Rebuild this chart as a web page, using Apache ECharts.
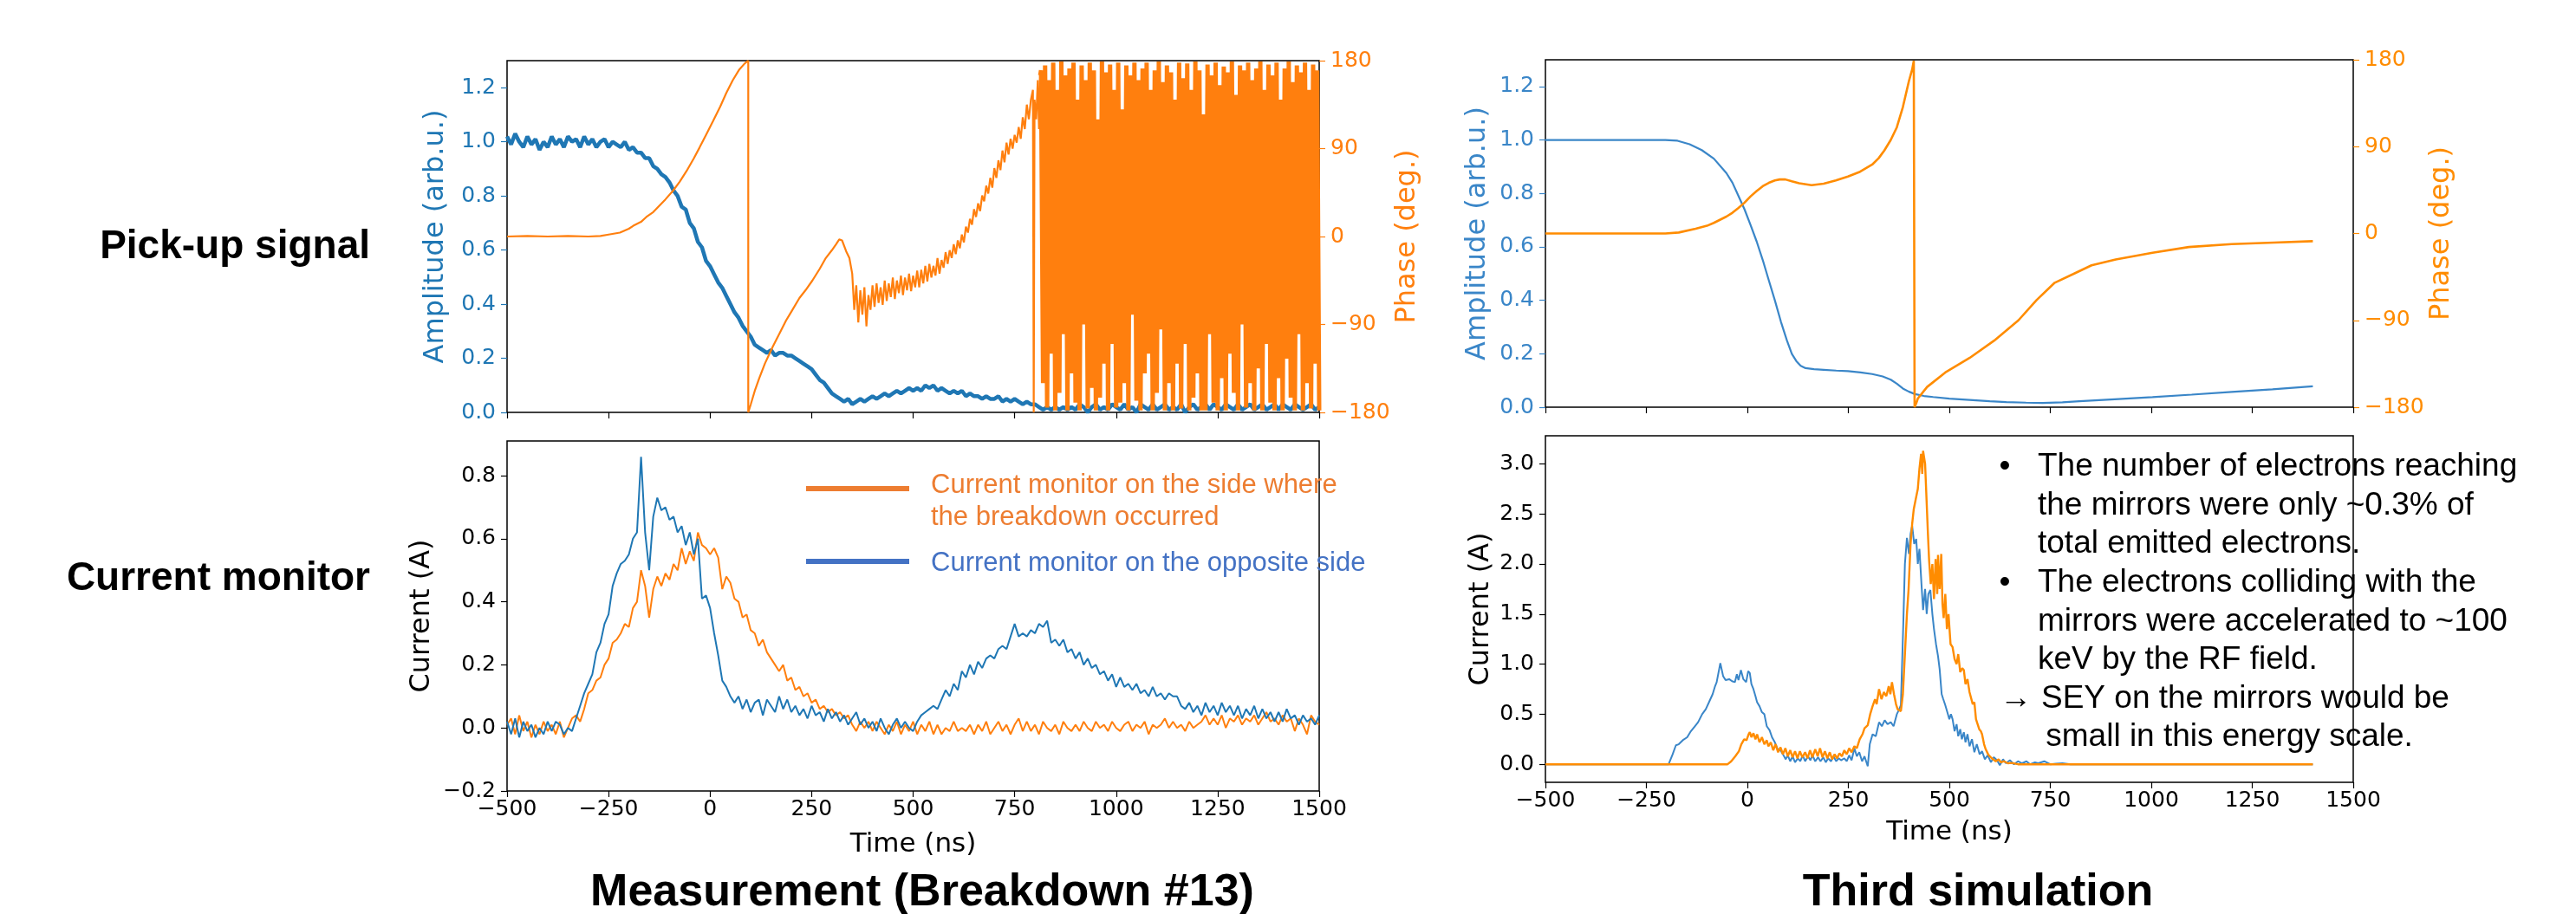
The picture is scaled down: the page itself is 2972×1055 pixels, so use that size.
<!DOCTYPE html>
<html><head><meta charset="utf-8">
<script src="https://cdn.jsdelivr.net/npm/echarts@6/dist/echarts.min.js"></script>
<style>html,body{margin:0;padding:0;background:#fff}#c{width:2972px;height:1055px}</style>
</head><body><div id="c"></div>
<script>
// ---------- tick labels ----------
const xTicks = [-500, -250, 0, 250, 500, 750, 1000, 1250, 1500];
const ampTicks = [0, 0.2, 0.4, 0.6, 0.8, 1.0, 1.2];
const phaseTicks = [-180, -90, 0, 90, 180];
const blTicks = [-0.2, 0, 0.2, 0.4, 0.6, 0.8];
const brTicks = [0, 0.5, 1.0, 1.5, 2.0, 2.5, 3.0];

// ---------- Measurement: pick-up amplitude (start -500 ns, every 10 ns) ----------
const tlAmpStart = -500, tlAmpStep = 10;
const tlAmp = [
 1.02,0.99,1.03,1.00,0.98,1.02,0.99,1.01,0.97,1.00,
 0.98,1.02,0.99,1.01,0.98,1.02,1.00,1.01,0.98,1.02,
 0.99,1.01,0.98,1.00,1.01,0.98,1.00,0.99,0.98,1.00,
 0.97,0.98,0.96,0.96,0.94,0.94,0.91,0.90,0.88,0.87,
 0.85,0.82,0.80,0.76,0.75,0.70,0.68,0.63,0.61,0.56,
 0.54,0.51,0.48,0.46,0.43,0.40,0.37,0.35,0.32,0.30,
 0.28,0.25,0.24,0.23,0.22,0.23,0.21,0.22,0.22,0.21,
 0.21,0.20,0.19,0.18,0.17,0.16,0.14,0.12,0.11,0.09,
 0.07,0.06,0.05,0.04,0.05,0.03,0.04,0.05,0.04,0.05,
 0.06,0.05,0.06,0.07,0.06,0.07,0.08,0.07,0.08,0.09,
 0.08,0.09,0.08,0.10,0.09,0.10,0.08,0.09,0.08,0.07,
 0.08,0.07,0.08,0.06,0.07,0.06,0.06,0.05,0.06,0.05,
 0.05,0.06,0.04,0.05,0.04,0.05,0.04,0.03,0.04,0.03,
 0.03,0.02,0.01,0.02,0.01,0.02,0.01,0.02,0.01,0.02,
 0.01,0.03,0.02,0.00,0.02,0.03,0.01,0.02,0.01,0.03,
 0.02,0.01,0.03,0.01,0.02,0.00,0.03,0.02,0.01,0.03,
 0.01,0.02,0.03,0.01,0.02,0.01,0.03,0.00,0.02,0.03,
 0.01,0.02,0.03,0.01,0.03,0.02,0.01,0.03,0.02,0.01,
 0.03,0.01,0.02,0.03,0.01,0.02,0.03,0.01,0.02,0.03,
 0.01,0.03,0.02,0.01,0.03,0.02,0.01,0.02,0.03,0.01,
 0.02
];

// ---------- Measurement: pick-up phase, [time ns, deg] ----------
const tlPhase = [
 [-500,0],[-450,0.5],[-400,0],[-350,0.5],[-300,0],[-270,0.5],[-250,2],[-222,4],[-200,8],[-189,11],
 [-170,15],[-157,20],[-140,25],[-124,32],[-110,38],[-91,47],[-75,56],[-58,67],[-40,80],[-26,91],
 [-10,104],[7,118],[25,133],[40,147],[56,160],[72,171],[85,177],[94,180],[94,-180],[100,-172],
 [110,-158],[121,-145],[135,-130],[154,-113],[170,-100],[187,-86],[200,-77],[220,-63],[235,-55],[252,-45],
 [270,-33],[285,-22],[300,-14],[310,-8],[318,-3],[325,-4],[335,-15],[343,-22],[350,-38],[355,-75],
 [360,-50],[365,-88],[370,-55],[375,-80],[380,-52],[385,-92],[390,-60],[395,-75],[400,-50],[405,-72],
 [410,-48],[415,-68],[420,-52],[425,-70],[430,-45],[435,-66],[440,-48],[445,-62],[450,-42],[455,-64],
 [460,-45],[465,-58],[470,-40],[475,-60],[480,-42],[485,-55],[490,-38],[495,-56],[500,-40],[505,-52],
 [510,-35],[515,-52],[520,-34],[525,-48],[530,-30],[535,-46],[540,-28],[545,-42],[550,-30],[555,-40],
 [560,-22],[565,-38],[570,-24],[575,-32],[580,-16],[585,-28],[590,-14],[595,-22],[600,-8],[605,-18],
 [610,-4],[615,-12],[620,2],[625,-6],[630,10],[635,4],[640,18],[645,12],[650,28],[655,20],
 [660,34],[665,26],[670,42],[675,36],[680,52],[685,44],[690,60],[695,50],[700,70],[705,60],
 [710,78],[715,68],[720,88],[725,76],[730,96],[735,84],[740,100],[745,90],[750,104],[755,96],
 [760,112],[765,100],[770,122],[775,110],[780,135],[785,120],[790,140],[795,150],[797,150],[797,-180],
 [798,-180],[799,140],[803,120],[807,160],[810,110],[813,165]
];
// chaotic phase after the breakdown: 815 ns .. 1500 ns, every 5 ns
const tlChaosStart = 815, tlChaosStep = 5;
const tlChaos = [
 170,-150,175,-175,160,-120,178,-178,150,-160,
 179,-100,165,-178,172,-140,178,-170,140,-178,
 175,-90,160,-176,178,-155,170,-178,120,-165,
 179,-130,168,-178,176,-110,150,-175,178,-170,
 130,-150,175,-178,165,-80,178,-168,160,-178,
 172,-140,178,-120,150,-178,170,-160,179,-95,
 158,-178,175,-150,168,-178,140,-130,178,-176,
 162,-110,177,-178,150,-165,179,-140,170,-178,
 125,-178,176,-100,165,-170,178,-178,155,-145,
 174,-178,168,-120,179,-160,145,-178,175,-90,
 170,-175,178,-150,160,-178,172,-135,179,-178,
 150,-110,176,-170,165,-178,178,-145,140,-178,
 172,-125,179,-165,158,-178,175,-100,168,-178,
 178,-150,150,-176,176,-130,170,-178
];

// ---------- Measurement: current monitors (start -500 ns, every 10 ns) ----------
const blStart = -500, blStep = 10;
const blOpposite = [
 0.02,-0.02,0.03,-0.03,0.02,-0.01,0.01,-0.03,0.00,-0.02,
 0.02,-0.01,0.02,0.01,-0.02,0.00,-0.01,0.03,0.07,0.11,
 0.14,0.17,0.24,0.27,0.33,0.36,0.45,0.49,0.52,0.53,
 0.55,0.60,0.62,0.86,0.62,0.50,0.67,0.73,0.69,0.70,
 0.66,0.67,0.62,0.64,0.58,0.62,0.55,0.60,0.41,0.42,
 0.38,0.30,0.23,0.15,0.13,0.10,0.08,0.10,0.06,0.09,
 0.05,0.08,0.09,0.04,0.09,0.07,0.05,0.10,0.06,0.09,
 0.05,0.07,0.04,0.06,0.03,0.07,0.04,0.05,0.02,0.06,
 0.03,0.05,0.02,0.04,0.01,0.03,0.05,0.01,0.03,0.00,
 0.02,-0.01,0.03,0.00,-0.02,0.01,0.03,0.00,0.02,0.00,
 -0.01,0.02,0.04,0.05,0.06,0.07,0.06,0.09,0.12,0.10,
 0.14,0.12,0.18,0.16,0.20,0.17,0.21,0.19,0.22,0.23,
 0.22,0.25,0.26,0.25,0.29,0.33,0.29,0.30,0.29,0.31,
 0.30,0.33,0.32,0.34,0.27,0.28,0.26,0.28,0.24,0.25,
 0.22,0.24,0.20,0.22,0.19,0.20,0.17,0.18,0.15,0.17,
 0.13,0.16,0.13,0.14,0.12,0.14,0.11,0.12,0.10,0.13,
 0.10,0.11,0.09,0.11,0.10,0.10,0.07,0.06,0.08,0.05,
 0.07,0.04,0.08,0.05,0.07,0.04,0.08,0.05,0.07,0.04,
 0.07,0.03,0.06,0.04,0.07,0.03,0.06,0.03,0.05,0.02,
 0.05,0.02,0.06,0.03,0.04,0.01,0.04,0.02,0.03,0.01,
 0.04
];
const blBreakdown = [
 0.01,0.03,-0.02,0.04,-0.01,0.02,-0.03,0.01,-0.02,0.02,
 -0.01,0.01,-0.02,0.02,-0.03,0.00,0.03,0.04,0.02,0.06,
 0.11,0.12,0.15,0.16,0.20,0.22,0.27,0.28,0.30,0.33,
 0.32,0.38,0.40,0.50,0.45,0.35,0.44,0.48,0.45,0.49,
 0.47,0.52,0.50,0.57,0.52,0.56,0.53,0.62,0.58,0.57,
 0.55,0.57,0.54,0.44,0.48,0.46,0.41,0.40,0.35,0.36,
 0.31,0.30,0.26,0.28,0.24,0.22,0.20,0.18,0.20,0.15,
 0.16,0.12,0.13,0.10,0.11,0.08,0.09,0.06,0.07,0.05,
 0.06,0.04,0.05,0.03,0.04,0.01,-0.01,0.02,0.00,0.02,
 -0.01,0.02,0.00,-0.02,0.01,-0.01,0.02,-0.02,0.01,-0.01,
 0.02,-0.02,0.01,-0.01,0.02,-0.02,0.01,-0.02,0.00,-0.01,
 0.02,-0.01,0.00,-0.01,0.01,-0.02,0.01,-0.01,0.02,-0.02,
 0.00,0.02,-0.01,0.01,-0.02,0.01,0.03,-0.01,0.02,-0.01,
 0.01,-0.02,0.02,0.00,-0.01,0.01,-0.02,0.02,0.00,-0.01,
 0.01,-0.01,0.02,0.00,-0.01,0.02,0.00,0.01,-0.01,0.02,
 0.00,-0.01,0.01,0.02,-0.01,0.01,0.00,0.02,-0.02,0.01,
 0.00,0.01,0.03,0.00,0.02,0.00,0.01,-0.01,0.02,0.00,
 0.01,0.02,0.04,0.01,0.03,0.01,0.04,0.00,0.03,0.02,
 0.04,0.01,0.03,0.02,0.04,0.01,0.03,0.05,0.02,0.03,
 0.01,0.04,0.02,0.03,-0.01,0.03,0.01,-0.02,0.04,0.02,
 0.01
];

// ---------- Third simulation: pick-up signal, [time ns, value] ----------
const trAmp = [
 [-500,1.0],[-400,1.0],[-300,1.0],[-203,1.0],[-173,0.997],[-143,0.984],[-113,0.962],[-83,0.93],[-52,0.876],[-37,0.84],
 [-22,0.79],[-7,0.74],[8,0.681],[23,0.62],[38,0.551],[53,0.475],[68,0.40],[83,0.32],[98,0.249],[110,0.20],
 [121,0.173],[132,0.155],[144,0.146],[165,0.142],[189,0.14],[220,0.137],[249,0.135],[280,0.13],[309,0.124],[335,0.115],
 [355,0.103],[370,0.088],[385,0.07],[400,0.058],[415,0.049],[437,0.042],[460,0.038],[500,0.032],[550,0.027],[600,0.022],
 [641,0.019],[690,0.017],[731,0.016],[780,0.018],[822,0.022],[900,0.029],[1003,0.038],[1100,0.047],[1199,0.057],[1300,0.067],
 [1400,0.078]
];
const trPhase = [
 [-500,0],[-300,0],[-203,0],[-170,1],[-128,5],[-100,8],[-83,11],[-52,17.5],[-37,21.5],[-22,26.5],
 [-7,32],[8,38.5],[23,44],[38,49],[53,52.5],[68,55],[80,56],[94,56],[110,54],[128,52],
 [159,50],[189,51.6],[219,55],[249,59],[279,64],[309,71.4],[325,78],[339,86],[355,97],[370,110],
 [385,131],[400,158],[408,170],[412,179],[414,180],[414,-180],[418,-176],[422,-171],[445,-159],[490,-144],
 [550,-129],[611,-111],[671,-90],[716,-69],[761,-51],[807,-42],[852,-33],[912,-27],[1003,-20],[1093,-14],
 [1199,-11],[1304,-9.4],[1400,-8]
];

// ---------- Third simulation: current monitors, [time ns, A] ----------
const brOpposite = [
 [-500,0],[-195,0],[-185,0.1],[-177,0.19],[-170,0.2],[-160,0.24],[-149,0.27],[-140,0.33],[-130,0.38],[-122,0.42],
 [-112,0.5],[-103,0.55],[-95,0.62],[-86,0.70],[-80,0.78],[-76,0.82],[-67,1.01],[-60,0.88],[-54,0.84],[-45,0.85],
 [-38,0.83],[-31,0.82],[-26,0.9],[-22,0.84],[-16,0.94],[-10,0.85],[-3,0.82],[2,0.93],[6,0.91],[10,0.8],
 [15,0.75],[20,0.68],[24,0.62],[30,0.58],[36,0.52],[42,0.50],[48,0.38],[55,0.34],[61,0.27],[68,0.22],
 [75,0.15],[82,0.14],[88,0.10],[95,0.05],[100,0.09],[106,0.03],[112,0.08],[118,0.02],[125,0.06],[131,0.03],
 [137,0.09],[143,0.03],[150,0.08],[156,0.04],[161,0.09],[168,0.03],[175,0.07],[181,0.03],[188,0.07],[194,0.02],
 [200,0.06],[207,0.03],[213,0.08],[220,0.03],[226,0.06],[232,0.04],[240,0.06],[246,0.03],[252,0.09],[258,0.04],
 [265,0.16],[271,0.08],[277,0.12],[284,0.03],[290,0.08],[298,-0.02],[303,0.2],[310,0.3],[318,0.28],[326,0.42],
 [333,0.38],[340,0.44],[347,0.40],[355,0.42],[362,0.38],[370,0.5],[376,0.55],[380,0.59],[386,1.4],[390,2.0],
 [395,2.26],[400,2.1],[404,2.3],[408,2.38],[413,2.2],[418,2.25],[422,2.0],[426,2.15],[431,1.8],[435,1.54],
 [440,1.75],[444,1.5],[448,1.7],[453,1.74],[458,1.5],[462,1.35],[467,1.2],[472,1.08],[476,0.95],[481,0.7],
 [485,0.65],[490,0.59],[495,0.52],[500,0.45],[504,0.5],[508,0.45],[513,0.33],[518,0.4],[522,0.28],[527,0.35],
 [531,0.25],[536,0.32],[540,0.22],[545,0.30],[550,0.18],[556,0.25],[562,0.12],[568,0.20],[575,0.10],[581,0.13],
 [588,0.05],[595,0.09],[603,0.02],[610,0.07],[618,0.04],[625,-0.01],[633,0.05],[640,0.01],[650,0.04],[660,0.0],
 [670,0.03],[680,0.01],[691,0.03],[700,0.0],[712,0.02],[720,0.01],[735,0.03],[750,0.0],[764,0.006],[780,0.01],
 [800,0],[1400,0]
];
const brBreakdown = [
 [-500,0],[-49,0],[-40,0.03],[-30,0.08],[-21,0.13],[-15,0.2],[-8,0.25],[-2,0.24],[3,0.30],[6,0.32],
 [10,0.27],[15,0.31],[20,0.25],[24,0.30],[30,0.22],[36,0.27],[42,0.2],[48,0.24],[52,0.18],[58,0.22],
 [64,0.14],[70,0.2],[76,0.12],[82,0.17],[88,0.10],[94,0.16],[100,0.08],[106,0.14],[112,0.07],[118,0.13],
 [124,0.06],[130,0.13],[136,0.07],[143,0.12],[149,0.06],[155,0.14],[161,0.07],[168,0.15],[174,0.08],[180,0.16],
 [186,0.07],[192,0.13],[198,0.06],[204,0.12],[210,0.05],[216,0.1],[222,0.06],[228,0.11],[234,0.08],[240,0.14],
 [246,0.1],[252,0.16],[258,0.12],[265,0.18],[271,0.16],[278,0.25],[285,0.3],[290,0.36],[298,0.39],[304,0.5],
 [310,0.58],[316,0.65],[320,0.6],[326,0.75],[332,0.65],[338,0.72],[344,0.68],[350,0.78],[354,0.7],[358,0.82],
 [363,0.7],[368,0.6],[372,0.55],[376,0.56],[380,0.53],[385,0.7],[390,1.1],[395,1.5],[399,1.74],[404,2.2],
 [408,2.4],[412,2.55],[417,2.65],[422,2.75],[426,2.95],[430,3.1],[433,2.9],[435,3.13],[440,3.0],[444,2.6],
 [447,2.3],[450,2.03],[454,1.8],[458,2.0],[462,1.65],[466,2.05],[470,1.7],[472,2.09],[476,1.75],[480,2.1],
 [483,1.6],[486,1.46],[490,1.7],[494,1.35],[498,1.5],[503,1.2],[508,1.17],[513,1.05],[518,1.0],[522,1.1],
 [527,0.92],[532,0.96],[536,0.94],[540,0.8],[545,0.85],[550,0.72],[554,0.71],[558,0.6],[562,0.62],[566,0.45],
 [570,0.4],[574,0.35],[578,0.33],[581,0.30],[586,0.2],[590,0.15],[596,0.1],[600,0.08],[605,0.06],[609,0.07],
 [615,0.03],[622,0.05],[628,0.02],[635,0.03],[645,0.01],[654,0.014],[670,0.0],[1400,0]
];

// ---------- texts ----------
const legendTexts = ['Current monitor on the side where', 'the breakdown occurred', 'Current monitor on the opposite side'];
const noteLines = [
 ['•', 'The number of electrons reaching'],
 ['', 'the mirrors were only ~0.3% of'],
 ['', 'total emitted electrons.'],
 ['•', 'The electrons colliding with the'],
 ['', 'mirrors were accelerated to ~100'],
 ['', 'keV by the RF field.'],
 ['→', 'SEY on the mirrors would be'],
 ['', ' small in this energy scale.']
];

// ---------- build ----------
const stepPairs = (start, step, vals) => vals.map((v, i) => [start + i * step, v]);
const MINUS = '\u2212';
const fmt1 = v => (v < -1e-9 ? MINUS + (-v).toFixed(1) : Math.abs(v).toFixed(1));
const fmt0 = v => (v < 0 ? MINUS + (-v) : '' + v);
const MPL = "'DejaVu Sans', sans-serif";
const ARIAL = "'Liberation Sans', Arial, sans-serif";
const TICK_FS = 25;

const C = {
  mBlue: '#1f77b4', mOrange: '#ff7f0e',
  sBlue: '#3a86c8', sOrange: '#ff8c00',
  lgOrange: '#ED7D31', lgBlue: '#4472C4'
};

const grids = [
  {left: 585, top: 70, width: 937, height: 406},
  {left: 585, top: 509, width: 937, height: 404},
  {left: 1783, top: 69, width: 932, height: 401},
  {left: 1783, top: 503, width: 932, height: 400}
].map(g => Object.assign(g, {show: true, borderColor: '#000', borderWidth: 1.5, backgroundColor: 'transparent'}));

function xAx(gi, showLabel, name) {
  return {
    type: 'value', gridIndex: gi, min: -500, max: 1500, interval: 250,
    axisLine: {show: false, onZero: false}, splitLine: {show: false},
    axisTick: {show: true, length: 7, inside: false, lineStyle: {color: '#000', width: 1.2}},
    axisLabel: {show: showLabel, margin: 9, fontFamily: MPL, fontSize: TICK_FS, color: '#000', formatter: fmt0},
    name: name || '', nameLocation: 'middle', nameGap: 46,
    nameTextStyle: {fontFamily: MPL, fontSize: 31, color: '#000'}
  };
}
function yAx(gi, pos, min, max, ticks, color, formatter, name, gap, nameColor) {
  return {
    type: 'value', gridIndex: gi, position: pos, min: min, max: max,
    axisLine: {show: false, onZero: false}, splitLine: {show: false},
    axisTick: {show: true, length: 7, inside: false, customValues: ticks, lineStyle: {color: color, width: 1.2}},
    axisLabel: {margin: 13, fontFamily: MPL, fontSize: TICK_FS, color: color, formatter: formatter, customValues: ticks},
    name: name, nameLocation: 'middle', nameRotate: 90, nameGap: gap,
    nameTextStyle: {fontFamily: MPL, fontSize: 32, color: nameColor || color}
  };
}

const xAxis = [xAx(0, false), xAx(1, true, 'Time (ns)'), xAx(2, false), xAx(3, true, 'Time (ns)')];
xAxis[3].nameGap = 42;
const yAxis = [
  yAx(0, 'left', 0, 1.3, ampTicks, C.mBlue, fmt1, 'Amplitude (arb.u.)', 66),
  yAx(0, 'right', -180, 180, phaseTicks, C.mOrange, fmt0, 'Phase (deg.)', 86),
  yAx(1, 'left', -0.2, 0.91, blTicks, '#000', fmt1, 'Current (A)', 82),
  yAx(2, 'left', 0, 1.3, ampTicks, C.sBlue, fmt1, 'Amplitude (arb.u.)', 62),
  yAx(2, 'right', -180, 180, phaseTicks, C.sOrange, fmt0, 'Phase (deg.)', 86),
  yAx(3, 'left', -0.18, 3.28, brTicks, '#000', fmt1, 'Current (A)', 58)
];

function line(xi, yi, data, color, width, z) {
  return {type: 'line', xAxisIndex: xi, yAxisIndex: yi, data: data, showSymbol: false, symbol: 'none',
    sampling: null, animation: false, silent: true, z: z,
    lineStyle: {color: color, width: width}, itemStyle: {color: color}};
}

const chaosData = [[813, 165]].concat(stepPairs(tlChaosStart, tlChaosStep, tlChaos));
const series = [
  line(0, 0, stepPairs(tlAmpStart, tlAmpStep, tlAmp), C.mBlue, 4.5, 2),
  line(0, 1, tlPhase, C.mOrange, 2.2, 3),
  line(0, 1, chaosData, C.mOrange, 5, 3),
  line(1, 2, stepPairs(blStart, blStep, blBreakdown), C.mOrange, 2, 2),
  line(1, 2, stepPairs(blStart, blStep, blOpposite), C.mBlue, 2, 3),
  line(2, 3, trAmp, C.sBlue, 2.2, 2),
  line(2, 4, trPhase, C.sOrange, 2.6, 3),
  line(3, 5, brOpposite, C.sBlue, 2, 2),
  line(3, 5, brBreakdown, C.sOrange, 2.4, 3)
];

const T = (text, x, y, font, fill, align) => ({
  type: 'text', silent: true, z: 100,
  style: {text: text, x: x, y: y, font: font, fill: fill, textAlign: align || 'left', align: align || 'left',
    textVerticalAlign: 'middle', verticalAlign: 'middle'}
});
const boldBig = "bold 46px " + ARIAL;
const boldTitle = "bold 52px " + ARIAL;
const legFont = "31px " + ARIAL;
const noteFont = "37px " + ARIAL;

const graphics = [
  T('Pick-up signal', 427, 285, boldBig, '#000', 'right'),
  T('Current monitor', 427, 668, boldBig, '#000', 'right'),
  T('Measurement (Breakdown #13)', 1064, 1031, boldTitle, '#000', 'center'),
  T('Third simulation', 2282, 1031, boldTitle, '#000', 'center'),
  {type: 'line', silent: true, z: 100, shape: {x1: 930, y1: 564, x2: 1049, y2: 564}, style: {stroke: C.lgOrange, lineWidth: 6}},
  {type: 'line', silent: true, z: 100, shape: {x1: 930, y1: 648, x2: 1049, y2: 648}, style: {stroke: C.lgBlue, lineWidth: 6}},
  T(legendTexts[0], 1074, 560, legFont, C.lgOrange),
  T(legendTexts[1], 1074, 597, legFont, C.lgOrange),
  T(legendTexts[2], 1074, 650, legFont, C.lgBlue)
];
const noteBase = 551, noteGap = 44.6;
noteLines.forEach((ln, i) => {
  const y = noteBase + i * noteGap - 12;
  if (ln[0] === '•') graphics.push(T('•', 2313, y, noteFont, '#000', 'center'));
  if (ln[0] === '→') graphics.push(T('→', 2307, y, noteFont, '#000', 'left'));
  const x = ln[0] === '→' ? 2355 : (i === 7 ? 2350 : 2351);
  graphics.push(T(ln[1], x, y, noteFont, '#000', 'left'));
});

const chart = echarts.init(document.getElementById('c'), null, {renderer: 'canvas'});
chart.setOption({
  animation: false,
  backgroundColor: '#fff',
  grid: grids,
  xAxis: xAxis,
  yAxis: yAxis,
  series: series,
  graphic: {elements: graphics}
});
</script></body></html>
